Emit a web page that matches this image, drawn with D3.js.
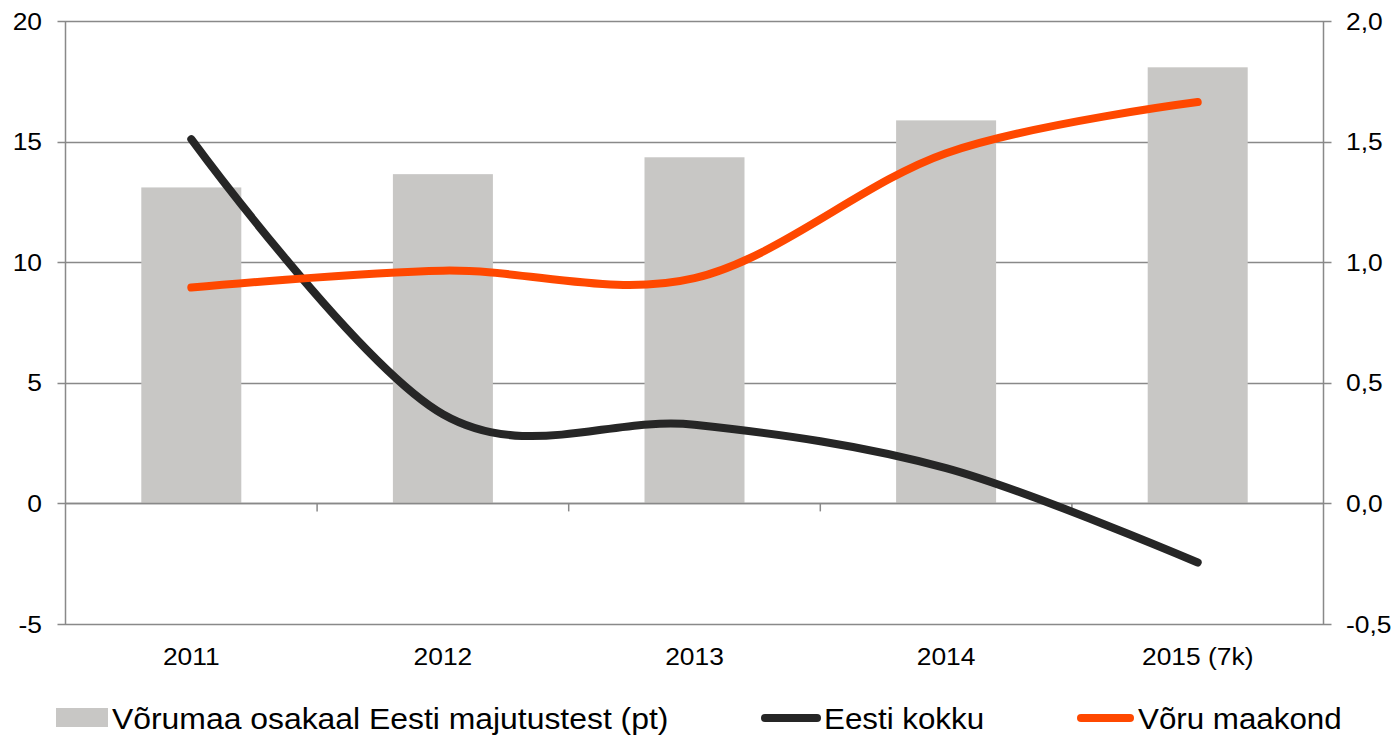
<!DOCTYPE html>
<html><head><meta charset="utf-8">
<script src="https://cdn.jsdelivr.net/npm/d3@7"></script>
<style>
body{margin:0;background:#fff;}
svg{display:block;font-family:"Liberation Sans",Arial,sans-serif;}
</style></head>
<body><svg id="c" width="1393" height="735"></svg>
<script>
const categories = ["2011","2012","2013","2014","2015 (7k)"];
const shareValues = [13.1, 13.65, 14.35, 15.88, 18.08];
const eestiValues = [1.51, 0.37, 0.326, 0.146, -0.245];
const voruValues = [0.895, 0.965, 0.934, 1.452, 1.664];
const leftTicks = [-5, 0, 5, 10, 15, 20];
const rightTicks = [-0.5, 0, 0.5, 1.0, 1.5, 2.0];
const seriesNames = ["Võrumaa osakaal Eesti majutustest (pt)", "Eesti kokku", "Võru maakond"];

const svg = d3.select("#c");
const L = 65.5, R = 1323.5, T = 21, B = 624;
const x = d3.scaleBand().domain(categories).range([L, R]);
const yL = d3.scaleLinear().domain([-5, 20]).range([B, T]);
const yR = d3.scaleLinear().domain([-0.5, 2.0]).range([B, T]);
const grid = "#898989";
const SX = 1.1;

// gridlines
svg.append("g").selectAll("line").data(leftTicks).join("line")
  .attr("x1", L - 8).attr("x2", R + 8)
  .attr("y1", d => Math.round(yL(d)) + 0.5).attr("y2", d => Math.round(yL(d)) + 0.5)
  .attr("stroke", grid).attr("stroke-width", 1.5);

// bars
const bw = 100;
svg.append("g").selectAll("rect").data(shareValues).join("rect")
  .attr("x", (d, i) => x(categories[i]) + x.bandwidth() / 2 - bw / 2)
  .attr("width", bw)
  .attr("y", d => yL(d))
  .attr("height", d => yL(0) - yL(d))
  .attr("fill", "#c8c7c5");

svg.append("line").attr("x1", L).attr("x2", R)
  .attr("y1", Math.round(yL(0)) + 0.5).attr("y2", Math.round(yL(0)) + 0.5)
  .attr("stroke", grid).attr("stroke-width", 1.5);

svg.append("g").selectAll("line").data(categories.slice(1)).join("line")
  .attr("x1", d => x(d)).attr("x2", d => x(d))
  .attr("y1", yL(0)).attr("y2", yL(0) + 8)
  .attr("stroke", grid).attr("stroke-width", 1.5);

svg.append("line").attr("x1", L).attr("x2", L).attr("y1", T).attr("y2", B).attr("stroke", grid).attr("stroke-width", 1.5);
svg.append("line").attr("x1", R).attr("x2", R).attr("y1", T).attr("y2", B).attr("stroke", grid).attr("stroke-width", 1.5);

function stretchedText(g, px, py, txt, size, anchor, sx) {
  g.append("text")
    .attr("transform", `translate(${px},${py}) scale(${sx},1)`)
    .attr("text-anchor", anchor).attr("font-size", size).attr("fill", "#000")
    .text(txt);
}
const gl = svg.append("g");
leftTicks.forEach(d => stretchedText(gl, 42, yL(d) + 8.5, d, 24, "end", SX));
const fmt = d => d3.format(".1f")(d).replace(".", ",").replace("−", "-");
rightTicks.forEach(d => stretchedText(gl, 1346, yR(d) + 8.5, fmt(d), 24, "start", SX));
categories.forEach(d => stretchedText(gl, x(d) + x.bandwidth() / 2, 665, d, 24, "middle", SX));

// lines
const line = d3.line().curve(d3.curveCardinal.tension(0))
  .x((d, i) => x(categories[i]) + x.bandwidth() / 2)
  .y(d => yR(d));
svg.append("path").datum(eestiValues).attr("d", line)
  .attr("fill", "none").attr("stroke", "#262626").attr("stroke-width", 8).attr("stroke-linecap", "round");
svg.append("path").datum(voruValues).attr("d", line)
  .attr("fill", "none").attr("stroke", "#ff4800").attr("stroke-width", 8).attr("stroke-linecap", "round");

// legend
const lg = svg.append("g");
lg.append("rect").attr("x", 56).attr("y", 708).attr("width", 52).attr("height", 19).attr("fill", "#c8c7c5");
stretchedText(lg, 112, 729, seriesNames[0], 29, "start", 1.1);
lg.append("line").attr("x1", 765).attr("x2", 817).attr("y1", 718).attr("y2", 718)
  .attr("stroke", "#262626").attr("stroke-width", 8).attr("stroke-linecap", "round");
stretchedText(lg, 824, 729, seriesNames[1], 29, "start", 1.08);
lg.append("line").attr("x1", 1081).attr("x2", 1130).attr("y1", 718).attr("y2", 718)
  .attr("stroke", "#ff4800").attr("stroke-width", 8).attr("stroke-linecap", "round");
stretchedText(lg, 1138, 729, seriesNames[2], 29, "start", 1.08);
</script></body></html>
